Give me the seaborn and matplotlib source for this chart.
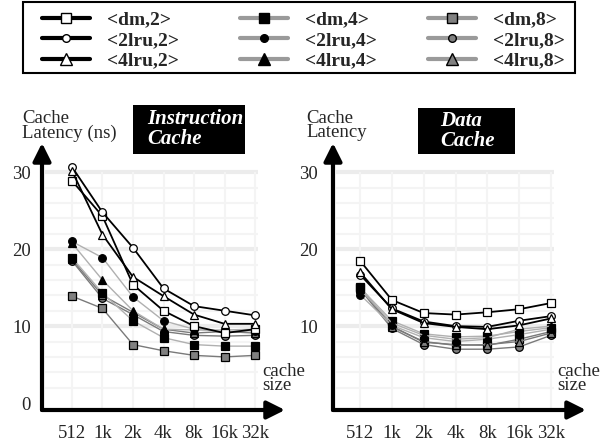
import matplotlib
matplotlib.use("Agg")
import matplotlib.pyplot as plt
from matplotlib.lines import Line2D
from matplotlib.patches import Rectangle
import seaborn as sns
import pandas as pd

sizes = ["512", "1k", "2k", "4k", "8k", "16k", "32k"]
configs = ["<dm,2>", "<2lru,2>", "<4lru,2>",
           "<dm,4>", "<2lru,4>", "<4lru,4>",
           "<dm,8>", "<2lru,8>", "<4lru,8>"]

# instruction cache latency (ns)
icache_dm2 = [28.9, 24.3, 15.4, 12.0, 10.0, 9.1, 9.6]
icache_2lru2 = [30.7, 24.8, 20.2, 14.9, 12.6, 12.0, 11.4]
icache_4lru2 = [30.2, 21.9, 16.4, 13.9, 11.5, 10.3, 10.3]
icache_dm4 = [18.9, 14.3, 10.7, 8.5, 7.6, 7.4, 7.4]
icache_2lru4 = [21.0, 18.9, 13.8, 10.7, 9.6, 9.3, 9.4]
icache_4lru4 = [20.8, 16.0, 12.0, 9.6, 9.5, 9.5, 9.6]
icache_dm8 = [13.9, 12.3, 7.6, 6.8, 6.2, 6.0, 6.2]
icache_2lru8 = [18.5, 13.6, 11.5, 9.3, 8.8, 8.7, 8.8]
icache_4lru8 = [18.7, 14.0, 11.8, 9.6, 9.1, 9.3, 9.1]

# data cache latency (ns)
dcache_dm2 = [18.5, 13.4, 11.7, 11.5, 11.8, 12.2, 13.0]
dcache_2lru2 = [16.7, 12.3, 10.6, 10.0, 9.9, 10.7, 11.3]
dcache_4lru2 = [17.0, 12.2, 10.4, 9.9, 9.6, 10.1, 11.0]
dcache_dm4 = [15.0, 10.7, 9.0, 8.6, 8.7, 9.3, 9.8]
dcache_2lru4 = [14.1, 10.1, 8.5, 8.0, 8.3, 8.9, 9.6]
dcache_4lru4 = [14.8, 10.4, 8.8, 8.3, 8.5, 9.6, 10.0]
dcache_dm8 = [15.1, 10.0, 7.9, 7.6, 7.5, 8.3, 9.3]
dcache_2lru8 = [14.8, 9.7, 7.6, 7.0, 7.0, 7.3, 8.8]
dcache_4lru8 = [14.9, 9.9, 8.0, 7.5, 7.6, 8.0, 9.1]

icache = [icache_dm2, icache_2lru2, icache_4lru2, icache_dm4, icache_2lru4,
          icache_4lru4, icache_dm8, icache_2lru8, icache_4lru8]
dcache = [dcache_dm2, dcache_2lru2, dcache_4lru2, dcache_dm4, dcache_2lru4,
          dcache_4lru4, dcache_dm8, dcache_2lru8, dcache_4lru8]

markers = ["s", "o", "^"] * 3
faces = ["white"] * 3 + ["black"] * 3 + ["#808080"] * 3
line_cols = ["black"] * 3 + ["#b0b0b0"] * 3 + ["#7a7a7a"] * 3
legend_cols = ["black"] * 3 + ["#9a9a9a"] * 6
legend_msize = [7, 5.5, 8] * 3

sns.set_style("white")
plt.rcParams["font.family"] = ["Liberation Serif", "DejaVu Serif"]

fig = plt.figure(figsize=(6.05, 4.46), dpi=100)
W, H = 605, 446
FS = 13.5


def fx(px):
    return px / W


def fy(py):
    return 1 - py / H


def draw_panel(ax, series, ylabels, xlim):
    ax.set_xlim(*xlim)
    ax.set_ylim(-0.9, 33.8)
    for v in range(2, 31, 2):
        major = v % 10 == 0
        ax.hlines(v, xlim[0] + 0.1, 6.1, color="#ececec" if major else "#f4f4f4",
                  lw=3 if major else 1.5, zorder=0)
    ax.vlines(range(7), -0.9, 30, color="#f4f4f4", lw=1.5, zorder=0)

    order = [6, 7, 8, 3, 4, 5, 0, 1, 2]
    for i in order:
        df = pd.DataFrame({"x": range(7), "y": series[i]})
        sns.lineplot(data=df, x="x", y="y", ax=ax, color=line_cols[i],
                     lw=1.3 if i < 3 else 1.0, marker=markers[i], markersize=5.5,
                     markerfacecolor=faces[i], markeredgecolor="black",
                     markeredgewidth=0.9, legend=False, zorder=3 + (i < 3))

    for s in ax.spines.values():
        s.set_visible(False)
    arrow = dict(arrowstyle="-|>,head_length=0.6,head_width=0.3", lw=3,
                 color="black", mutation_scale=18, shrinkA=0, shrinkB=0)
    ax.annotate("", xy=(1, 0), xytext=(0, 0), xycoords="axes fraction",
                textcoords="axes fraction", arrowprops=arrow)
    ax.annotate("", xy=(0, 1), xytext=(0, 0), xycoords="axes fraction",
                textcoords="axes fraction", arrowprops=arrow)

    ax.set_xticks(range(7), sizes)
    ax.set_yticks(ylabels, [str(v) for v in ylabels])
    ax.tick_params(axis="x", length=0, pad=11, labelsize=FS)
    ax.tick_params(axis="y", length=0, pad=8, labelsize=FS)
    ax.set_xlabel("")
    ax.set_ylabel("")


ax1 = fig.add_axes([fx(42), fy(410), fx(243), 267 / H])
draw_panel(ax1, icache, [0, 10, 20, 30], (-0.98, 6.98))

ax2 = fig.add_axes([fx(333), fy(410), fx(253), 267 / H])
draw_panel(ax2, dcache, [10, 20, 30], (-0.85, 7.1))
ax2.tick_params(axis="y", pad=11)

# title boxes
fig.patches.append(Rectangle((fx(133), fy(154)), fx(112), 49 / H,
                             transform=fig.transFigure, facecolor="black",
                             edgecolor="none"))
fig.text(fx(147), fy(129), "Instruction\nCache", color="white", fontsize=15,
         fontweight="bold", fontstyle="italic", va="center", ha="left",
         linespacing=0.95)
fig.patches.append(Rectangle((fx(418), fy(154)), fx(97), 46 / H,
                             transform=fig.transFigure, facecolor="black",
                             edgecolor="none"))
fig.text(fx(440), fy(131), "Data\nCache", color="white", fontsize=15,
         fontweight="bold", fontstyle="italic", va="center", ha="left",
         linespacing=0.95)

# axis captions
fig.text(fx(22), fy(110), "Cache\nLatency (ns)", fontsize=FS, va="top",
         linespacing=0.8)
fig.text(fx(306), fy(110), "Cache\nLatency", fontsize=FS, va="top",
         linespacing=0.8)
fig.text(fx(262), fy(363), "cache\nsize", fontsize=FS, va="top",
         linespacing=0.8)
fig.text(fx(557), fy(363), "cache\nsize", fontsize=FS, va="top",
         linespacing=0.8)

# legend: one column per associativity, inside a single frame
fig.patches.append(Rectangle((fx(23), fy(73)), fx(552), 71 / H,
                             transform=fig.transFigure, facecolor="white",
                             edgecolor="black", lw=1.5))
col_x = [42, 240, 428]
for c in range(3):
    idx = range(3 * c, 3 * c + 3)
    handles = [Line2D([], [], color=legend_cols[i], lw=3, marker=markers[i],
                      markersize=legend_msize[i], markerfacecolor=faces[i],
                      markeredgecolor="black", markeredgewidth=1)
               for i in idx]
    fig.legend(handles, [configs[i] for i in idx], loc="upper left",
               bbox_to_anchor=(fx(col_x[c]), fy(11)), frameon=False,
               prop={"weight": "bold", "size": 14}, handlelength=2.45,
               handletextpad=0.9, labelspacing=0.15, borderaxespad=0,
               borderpad=0)

fig.savefig("out.png", dpi=100)
